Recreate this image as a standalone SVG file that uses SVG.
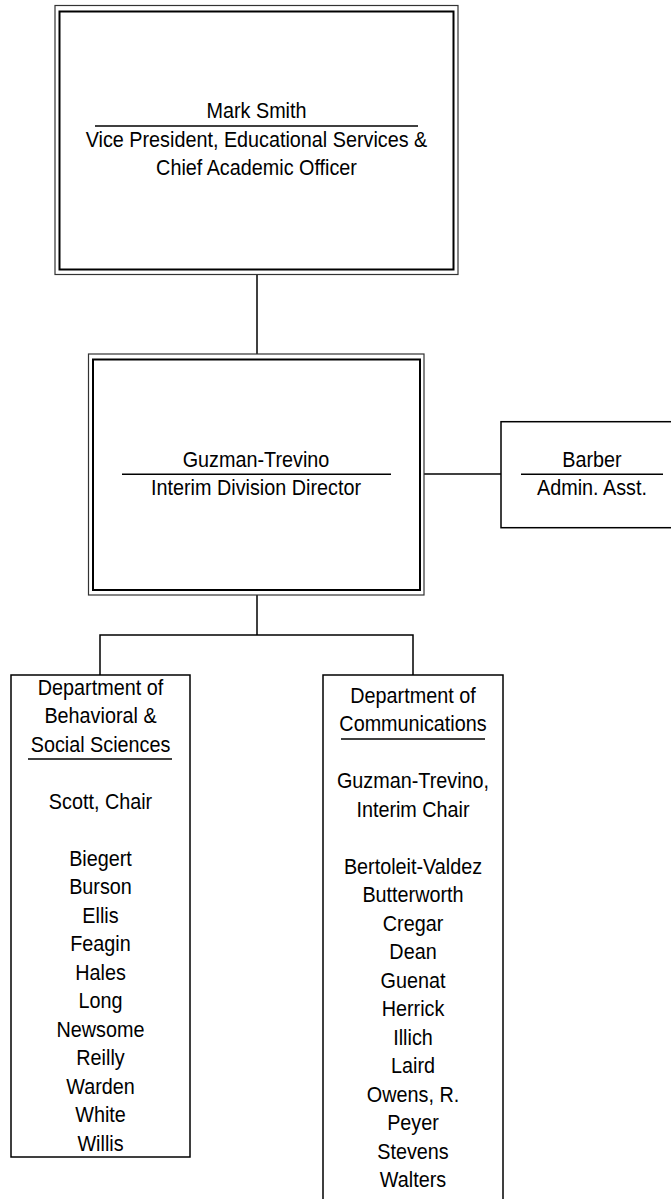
<svg xmlns="http://www.w3.org/2000/svg" width="671" height="1199" viewBox="0 0 671 1199">
<style>
.bx{fill:#fff;stroke:#000;stroke-width:1.5}
.bo{fill:none;stroke:#333;stroke-width:1.2}
.bi{fill:#fff;stroke:#000;stroke-width:2}
.ul{stroke:#000;stroke-width:1.6}
.cn{fill:none;stroke:#000;stroke-width:1.5}
text{font-family:"Liberation Sans",Arial,sans-serif;font-size:22px;fill:#000;text-anchor:middle}
</style>
<rect width="671" height="1199" fill="#fff"/>
<g id="connectors">
<line class="cn" x1="257" y1="274.5" x2="257" y2="354"/>
<line class="cn" x1="424" y1="474" x2="501" y2="474"/>
<polyline class="cn" points="257,595 257,635"/>
<polyline class="cn" points="100,675 100,635 413,635 413,675"/>
</g>
<g id="node-smith">
<rect class="bo" x="55" y="5.5" width="403" height="269"/>
<rect class="bi" x="59.5" y="11.5" width="394" height="258"/>
<line class="ul" x1="95" y1="126" x2="418" y2="126"/>
<g transform="matrix(0.9 0 0 1 256.5 0)">
<text x="0" y="118.5">Mark Smith</text>
<text x="0" y="147">Vice President, Educational Services &amp;</text>
<text x="0" y="175">Chief Academic Officer</text>
</g>
</g>
<g id="node-guzman">
<rect class="bo" x="88.5" y="354" width="335.5" height="241"/>
<rect class="bi" x="93" y="359.5" width="327" height="230.5"/>
<line class="ul" x1="122" y1="474.3" x2="391" y2="474.3"/>
<g transform="matrix(0.9 0 0 1 256 0)">
<text x="0" y="466.7">Guzman-Trevino</text>
<text x="0" y="495">Interim Division Director</text>
</g>
</g>
<g id="node-barber">
<rect class="bx" x="501" y="421.7" width="190" height="106"/>
<line class="ul" x1="521" y1="474.3" x2="663" y2="474.3"/>
<g transform="matrix(0.9 0 0 1 592 0)">
<text x="0" y="466.7">Barber</text>
<text x="0" y="495">Admin. Asst.</text>
</g>
</g>
<g id="node-bss">
<rect class="bx" x="11" y="675" width="179" height="482"/>
<line class="ul" x1="28" y1="759" x2="172" y2="759"/>
<g transform="matrix(0.9 0 0 1 100.5 0)">
<text x="0" y="695">Department of</text>
<text x="0" y="723.5">Behavioral &amp;</text>
<text x="0" y="752">Social Sciences</text>
<text x="0" y="809">Scott, Chair</text>
<text x="0" y="866">Biegert</text>
<text x="0" y="894.5">Burson</text>
<text x="0" y="923">Ellis</text>
<text x="0" y="951.5">Feagin</text>
<text x="0" y="980">Hales</text>
<text x="0" y="1008.5">Long</text>
<text x="0" y="1037">Newsome</text>
<text x="0" y="1065.5">Reilly</text>
<text x="0" y="1094">Warden</text>
<text x="0" y="1122.5">White</text>
<text x="0" y="1151">Willis</text>
</g>
</g>
<g id="node-comm">
<rect class="bx" x="323" y="675" width="180" height="540"/>
<line class="ul" x1="341" y1="739" x2="485" y2="739"/>
<g transform="matrix(0.9 0 0 1 413 0)">
<text x="0" y="703">Department of</text>
<text x="0" y="731.5">Communications</text>
<text x="0" y="788.5">Guzman-Trevino,</text>
<text x="0" y="817">Interim Chair</text>
<text x="0" y="874">Bertoleit-Valdez</text>
<text x="0" y="902.5">Butterworth</text>
<text x="0" y="931">Cregar</text>
<text x="0" y="959.5">Dean</text>
<text x="0" y="988">Guenat</text>
<text x="0" y="1016.5">Herrick</text>
<text x="0" y="1045">Illich</text>
<text x="0" y="1073.5">Laird</text>
<text x="0" y="1102">Owens, R.</text>
<text x="0" y="1130.5">Peyer</text>
<text x="0" y="1159">Stevens</text>
<text x="0" y="1187.5">Walters</text>
</g>
</g>
</svg>
